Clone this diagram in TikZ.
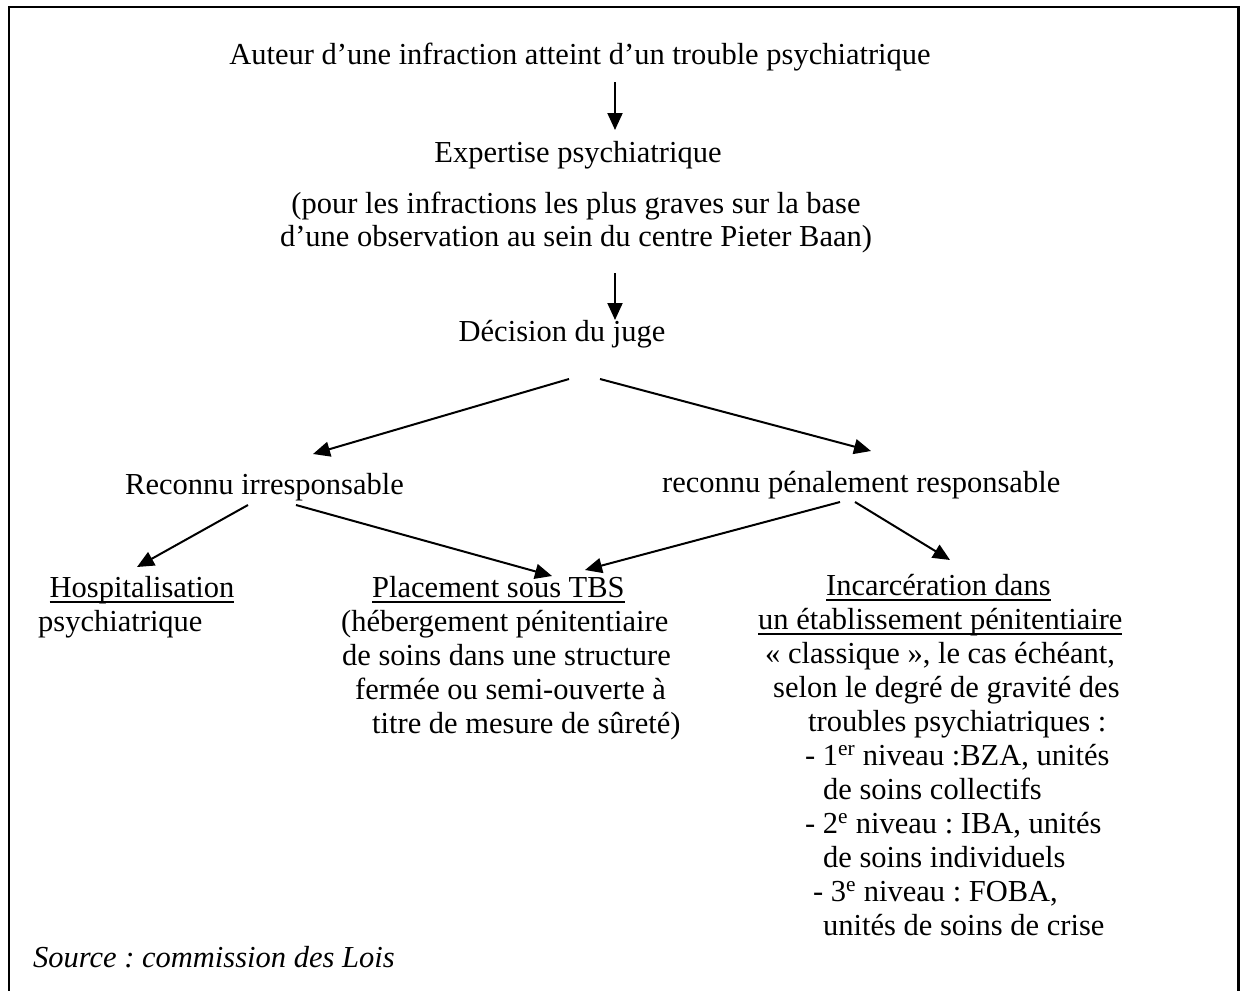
\documentclass[tikz,border=0pt]{standalone}
\usepackage{fontspec}
\setmainfont{Liberation Serif}
\usetikzlibrary{arrows.meta}
\newcommand\myul[1]{\setbox0\hbox{#1}\rlap{\rule[-5.5pt]{\wd0}{1.3pt}}\box0}
\frenchspacing
\begin{document}
\begin{tikzpicture}[x=1pt,y=-1pt,
  txt/.style={inner sep=0pt, anchor=base west, font=\fontsize{30.5}{34}\selectfont\frenchspacing},
  ctxt/.style={txt, anchor=base},
  arr/.style={line width=2pt, -{Triangle[length=17pt,width=15pt]}}]
\useasboundingbox (0,0) rectangle (1244,990);
\clip (0,0) rectangle (1244,990);
\draw[line width=2.4pt] (8.7,1010) -- (8.7,7) -- (1238.3,7) -- (1238.3,1010);

\node[ctxt] (auteur) at (580,64) {Auteur d’une infraction atteint d’un trouble psychiatrique};
\node[ctxt] (expert) at (578,162) {Expertise psychiatrique};
\node[ctxt] (exp1) at (576,213) {(pour les infractions les plus graves sur la base};
\node[ctxt] (exp2) at (576,246) {d’une observation au sein du centre Pieter Baan)};
\node[ctxt] (decision) at (562,341) {Décision du juge};

\node[txt] (irresp) at (125,494) {Reconnu irresponsable};
\node[txt] (resp) at (662,492) {reconnu pénalement responsable};

\node[txt] (hosp) at (49.5,597) {\myul{Hospitalisation}};
\node[txt] (hosp2) at (38,631) {psychiatrique};

\node[txt] (tbs) at (372,597) {\myul{Placement sous TBS}};
\node[txt] (tbs2) at (341,631) {(hébergement pénitentiaire};
\node[txt] (tbs3) at (342,665) {de soins dans une structure};
\node[txt] (tbs4) at (355,699) {fermée ou semi-ouverte à};
\node[txt] (tbs5) at (372,733) {titre de mesure de sûreté)};

\node[txt] (inc1) at (826,595) {\myul{Incarcération dans}};
\node[txt] (inc2) at (758,629) {\myul{un établissement pénitentiaire}};
\node[txt] (inc3) at (765,663) {«~classique~», le cas échéant,};
\node[txt] (inc4) at (773,697) {selon le degré de gravité des};
\node[txt] (inc5) at (808,731) {troubles psychiatriques :};
\node[txt] (inc6) at (805,765) {- 1\textsuperscript{er} niveau :BZA, unités};
\node[txt] (inc7) at (823,799) {de soins collectifs};
\node[txt] (inc8) at (805,833) {- 2\textsuperscript{e} niveau : IBA, unités};
\node[txt] (inc9) at (823,867) {de soins individuels};
\node[txt] (inc10) at (813,901) {- 3\textsuperscript{e} niveau : FOBA,};
\node[txt] (inc11) at (823,935) {unités de soins de crise};

\node[txt, font=\fontsize{30.5}{34}\selectfont\itshape\frenchspacing] (source) at (33,967) {Source : commission des Lois};

\coordinate (a1s) at (615,82);  \coordinate (a1e) at (615,130);
\coordinate (a2s) at (615,273); \coordinate (a2e) at (615,320);
\coordinate (a3s) at (569,379); \coordinate (a3e) at (313,454);
\coordinate (a4s) at (600,379); \coordinate (a4e) at (871,451);
\coordinate (a5s) at (248,505); \coordinate (a5e) at (137,567);
\coordinate (a6s) at (296,505); \coordinate (a6e) at (552,576);
\coordinate (a7s) at (840,502); \coordinate (a7e) at (585,570);
\coordinate (a8s) at (855,502); \coordinate (a8e) at (950,560);

\draw[arr] (a1s) -- (a1e);
\draw[arr] (a2s) -- (a2e);
\draw[arr] (a3s) -- (a3e);
\draw[arr] (a4s) -- (a4e);
\draw[arr] (a5s) -- (a5e);
\draw[arr] (a6s) -- (a6e);
\draw[arr] (a7s) -- (a7e);
\draw[arr] (a8s) -- (a8e);
\end{tikzpicture}
\end{document}
